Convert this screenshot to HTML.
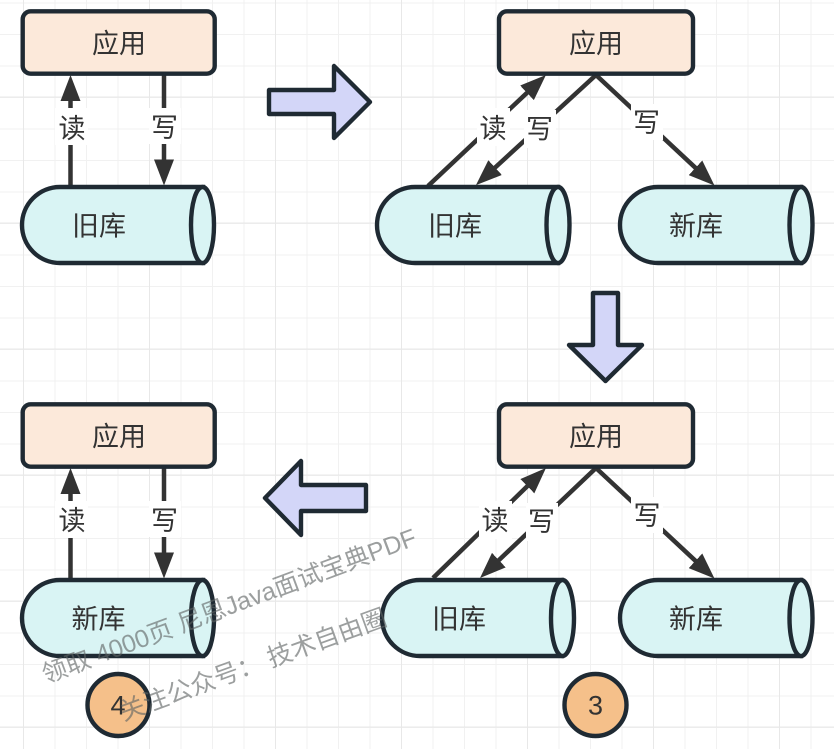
<!DOCTYPE html>
<html><head><meta charset="utf-8">
<style>
html,body{margin:0;padding:0;background:#fff;width:834px;height:749px;overflow:hidden}
svg{display:block}
text{font-family:"Liberation Sans","Noto Sans CJK SC",sans-serif}
.t{font-size:27px;fill:#333;text-anchor:middle;dominant-baseline:central}
.n{fill:#fce9da;stroke:#1f2a33;stroke-width:4.4}
.c{fill:#d9f4f4;stroke:#1f2a33;stroke-width:4.4}
.b{fill:#d3d6f8;stroke:#1f2a33;stroke-width:4.4;stroke-linejoin:round}
.o{fill:#f5c08a;stroke:#1f2a33;stroke-width:4.4}
.l{stroke:#333;stroke-width:4.5;fill:none}
.w{fill:#fff}
.m{font-size:25px;fill:rgba(95,100,100,.62)}
</style></head><body>
<svg width="834" height="749" viewBox="0 0 834 749" xmlns="http://www.w3.org/2000/svg">
<defs>
<marker id="h" markerUnits="userSpaceOnUse" markerWidth="26" markerHeight="20" viewBox="0 0 26 20" refX="11" refY="10" orient="auto"><path d="M0 0L26 10L0 20Z" fill="#333"/></marker>
<pattern id="g" width="31.5" height="31.5" patternUnits="userSpaceOnUse" x="23" y="2.5"><path d="M.5 0V31.5M0 .5H31.5" stroke="#f1f1f1" fill="none"/></pattern>
<pattern id="G" width="126" height="126" patternUnits="userSpaceOnUse" x="23" y="96.5"><path d="M.5 0V126M0 .5H126" stroke="#e8e8e8" fill="none"/></pattern>
</defs>
<rect width="834" height="749" fill="#fff"/>
<rect width="834" height="749" fill="url(#g)"/>
<rect width="834" height="749" fill="url(#G)"/>

<!-- panel 1 -->
<path class="l" d="M70.5 186V90" marker-end="url(#h)"/>
<path class="l" d="M164 74V170.500" marker-end="url(#h)"/>
<rect class="n" x="22.700" y="11.300" width="192" height="62.400" rx="8"/>
<text class="t" x="119" y="44">应用</text>
<rect class="w" x="55" y="108" width="33" height="37"/>
<rect class="w" x="149" y="108" width="32" height="36"/>
<text class="t" x="72" y="129">读</text>
<text class="t" x="164.500" y="128">写</text>
<path class="c" d="M60 187H203V263H60A38 38 0 0 1 60 187Z"/>
<ellipse class="c" cx="202.500" cy="225" rx="11.500" ry="38"/>
<text class="t" x="99" y="226.500">旧库</text>

<path class="b" d="M269 90H334V66L370 102L334 138V114H269Z"/>

<!-- panel 2 -->
<path class="l" d="M428 186L535 85.300" marker-end="url(#h)"/>
<path class="l" d="M596 75L487 175" marker-end="url(#h)"/>
<path class="l" d="M596 75L703.500 175.300" marker-end="url(#h)"/>
<rect class="n" x="499" y="11.300" width="194" height="62.400" rx="8"/>
<text class="t" x="596" y="44">应用</text>
<rect class="w" x="477" y="108" width="33" height="38"/>
<rect class="w" x="524" y="110" width="32" height="38"/>
<rect class="w" x="631" y="104" width="32" height="36"/>
<text class="t" x="493" y="129">读</text>
<text class="t" x="539.500" y="129.500">写</text>
<text class="t" x="646.500" y="123">写</text>
<path class="c" d="M415 187H558V263H415A38 38 0 0 1 415 187Z"/>
<ellipse class="c" cx="558" cy="225" rx="11.500" ry="38"/>
<text class="t" x="455" y="226.500">旧库</text>
<path class="c" d="M658 187H801V263H658A38 38 0 0 1 658 187Z"/>
<ellipse class="c" cx="801" cy="225" rx="11.500" ry="38"/>
<text class="t" x="696" y="226.500">新库</text>

<path class="b" d="M593 293H618V345H642L605.500 381L569 345H593Z"/>

<!-- panel 3 -->
<path class="l" d="M433 578L535.200 478.500" marker-end="url(#h)"/>
<path class="l" d="M596 468L490.900 567.700" marker-end="url(#h)"/>
<path class="l" d="M596 468L703.500 568.300" marker-end="url(#h)"/>
<rect class="n" x="499" y="404.300" width="194" height="62.400" rx="8"/>
<text class="t" x="596" y="437">应用</text>
<rect class="w" x="479" y="501" width="33" height="38"/>
<rect class="w" x="526" y="503" width="32" height="38"/>
<rect class="w" x="631" y="497" width="32" height="36"/>
<text class="t" x="495" y="521">读</text>
<text class="t" x="541.500" y="522">写</text>
<text class="t" x="647" y="516">写</text>
<path class="c" d="M420 580H562V656H420A38 38 0 0 1 420 580Z"/>
<ellipse class="c" cx="562.500" cy="618" rx="11.500" ry="38"/>
<text class="t" x="459" y="619.500">旧库</text>
<path class="c" d="M658 580H801V656H658A38 38 0 0 1 658 580Z"/>
<ellipse class="c" cx="801" cy="618" rx="11.500" ry="38"/>
<text class="t" x="696" y="619.500">新库</text>
<circle class="o" cx="595.500" cy="705" r="31"/>
<text class="t" x="595.500" y="705.500">3</text>

<path class="b" d="M366 485H301V461L265 498L301 535V511H366Z"/>

<!-- panel 4 -->
<path class="l" d="M70.500 579V483" marker-end="url(#h)"/>
<path class="l" d="M164 467V563.500" marker-end="url(#h)"/>
<rect class="n" x="22.700" y="404.300" width="192" height="62.400" rx="8"/>
<text class="t" x="119" y="437">应用</text>
<rect class="w" x="55" y="501" width="33" height="37"/>
<rect class="w" x="149" y="501" width="32" height="36"/>
<text class="t" x="72" y="521">读</text>
<text class="t" x="164.500" y="521">写</text>
<path class="c" d="M60 580H203V656H60A38 38 0 0 1 60 580Z"/>
<ellipse class="c" cx="202.500" cy="618" rx="11.500" ry="38"/>
<text class="t" x="98.500" y="619.500">新库</text>
<circle class="o" cx="118.500" cy="705" r="31"/>
<text class="t" x="118" y="705.500">4</text>

<!-- watermark -->
<text class="m" transform="translate(46 683.500) rotate(-20.500)" xml:space="preserve">领取 4000页 尼恩Java面试宝典PDF</text>
<text class="m" transform="translate(123.500 721) rotate(-20)" xml:space="preserve">关注公众号：<tspan dx="7">技术自由圈</tspan></text>
</svg>
</body></html>
